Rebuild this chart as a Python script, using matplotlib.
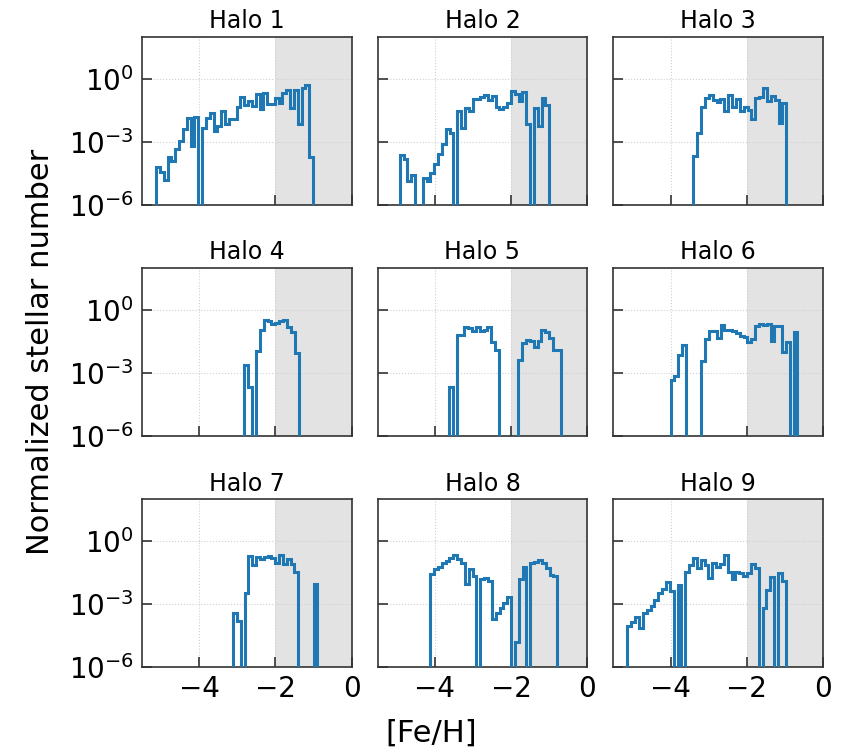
import numpy as np
import matplotlib.pyplot as plt
from matplotlib.ticker import NullLocator

Z = None  # empty bin

titles = ["Halo %d" % i for i in range(1, 10)]

# log10 of the normalized stellar number in each [Fe/H] bin
halo1 = [-4.19, -4.44, -4.83, -3.73, -3.92, -3.33, -2.98, -2.38, -1.87, -3.2,
         -1.81, Z, -2.33, -1.87, -1.65, -2.49, -2.25, -1.54, -2.17, -1.9,
         -1.9, -1.33, -0.86, -1.27, -1.06, -1.3, -0.75, -1.46, -0.67, -1.22,
         -1.22, -0.9, -1.17, -0.70, -0.54, -1.38, -0.54, -2.17, -0.43, -0.32, -3.71]
halo2 = [-3.65, -3.84, -4.87, -4.59, Z, Z, -4.71, -4.87, -4.48, -4.08,
         -3.6, -3.13, -2.41, -2.57, Z, -1.54, -2.33, -1.38, -1.54, -0.98,
         -0.95, -0.87, -0.79, -1.02, -0.83, -1.33, -1.43, -1.33, -1.17, -0.59,
         -0.75, -1.06, -0.63, -2.17, Z, -1.41, -2.25, -0.9, -1.27]
halo3 = [-3.68, -2.6, -1.33, -0.94, -0.76, -1.02, -1.11, -0.95, -1.54, -0.79,
         -1.33, -0.95, -1.54, -1.33, -1.49, -1.9, -0.9, -0.86, -0.43, -1.06,
         -0.83, -1.02, -2.13, -1.14]
halo4 = [-2.65, -3.68, Z, -1.94, -0.95, -0.5, -0.55, -0.68, -0.65, -0.52,
         -0.47, -0.84, -1.06, -2.05]
halo5 = [-3.68, Z, -1.22, -1.22, -0.82, -0.87, -1.03, -0.84, -1.0, -0.95,
         -0.82, -1.53, -1.9, Z, Z, Z, Z, Z, -2.37, -1.58,
         -1.45, -1.47, -1.79, -1.47, -0.95, -1.06, -1.34, -1.9, -1.9]
halo6 = [-3.32, -3.16, -2.16, -1.66, Z, Z, Z, Z, -2.45, -1.37,
         -1.03, -1.03, -1.34, -0.71, -0.95, -0.98, -1.03, -1.11, -1.26, -1.3,
         -1.53, -1.37, -0.76, -0.66, -0.74, -0.66, -1.47, -0.76, -0.76, -2.0,
         -1.53, Z, -1.06]
halo7 = [-3.44, -3.81, Z, -2.46, -0.71, -1.14, -0.78, -0.87, -0.75, -0.71,
         -0.83, -1.06, -0.67, -1.1, -0.87, -1.1, -1.46, Z, Z, Z,
         Z, -2.05]
halo8 = [-1.57, -1.35, -1.25, -1.03, -0.94, -0.83, -0.67, -0.87, -1.03, -2.05,
         -1.35, -1.67, Z, -1.83, -1.78, -1.89, -3.73, -3.44, -3.2, -2.97,
         -2.65, Z, -4.79, -1.83, -1.25, Z, -1.03, -0.98, -0.9, -1.06,
         -1.3, -1.62, -1.69]
halo9 = [-4.05, -3.84, -3.6, -4.16, -3.41, -3.28, -3.09, -2.79, -2.48, -2.28,
         -1.97, -2.4, Z, -2.12, Z, -1.46, -1.14, -0.83, -1.3, -0.9,
         -1.14, -1.78, -1.03, -1.22, -1.1, -0.67, -1.46, -1.83, -1.46, -1.54,
         -1.69, -1.51, -1.1, -1.3, Z, -3.2, -2.33, -1.71, Z, -1.54, -1.89]
halos = [halo1, halo2, halo3, halo4, halo5, halo6, halo7, halo8, halo9]

# first and last bin edge of each histogram
feh_lo = [-5.13, -4.92, -3.40, -2.82, -3.63, -4.00, -3.11, -4.12, -5.13]
feh_hi = [-1.01, -1.00, -0.965, -1.39, -0.70, -0.67, -0.90, -0.79, -0.98]

feh_cut = -2.0

fig, axes = plt.subplots(3, 3, figsize=(8.45, 7.49), dpi=100, sharex=True, sharey=True)
fig.subplots_adjust(left=0.168, right=0.974, top=0.951, bottom=0.1095,
                    wspace=0.124, hspace=0.375)

for i, ax in enumerate(axes.flat):
    h = halos[i]
    vals = np.array([1e-12 if v is None else 10.0 ** v for v in h])
    edges = np.linspace(feh_lo[i], feh_hi[i], len(h) + 1)

    ax.axvspan(feh_cut, 0, color="gray", alpha=0.22, lw=0, zorder=0)
    ax.stairs(vals, edges, baseline=1e-12, color="#1f77b4", lw=2.2, zorder=3)

    ax.set_yscale("log")
    ax.set_ylim(1e-6, 1e2)
    ax.set_xlim(-5.5, 0)
    ax.set_yticks([1e-6, 1e-3, 1e0])
    ax.yaxis.set_minor_locator(NullLocator())
    ax.set_xticks([-4, -2, 0])
    ax.grid(True, ls=":", color="#d0d0d0", lw=0.8)
    ax.set_axisbelow(True)
    ax.tick_params(direction="in", length=7, width=1.2, labelsize=20,
                   color="#333333", pad=6)
    for s in ax.spines.values():
        s.set_color("#333333")
        s.set_linewidth(1.2)
    ax.set_title(titles[i], fontsize=17)

axes[1, 0].set_ylabel("Normalized stellar number", fontsize=22, labelpad=10)
fig.text(0.51, 0.021, "[Fe/H]", ha="center", va="center", fontsize=22)

plt.savefig("out.png", dpi=100)
